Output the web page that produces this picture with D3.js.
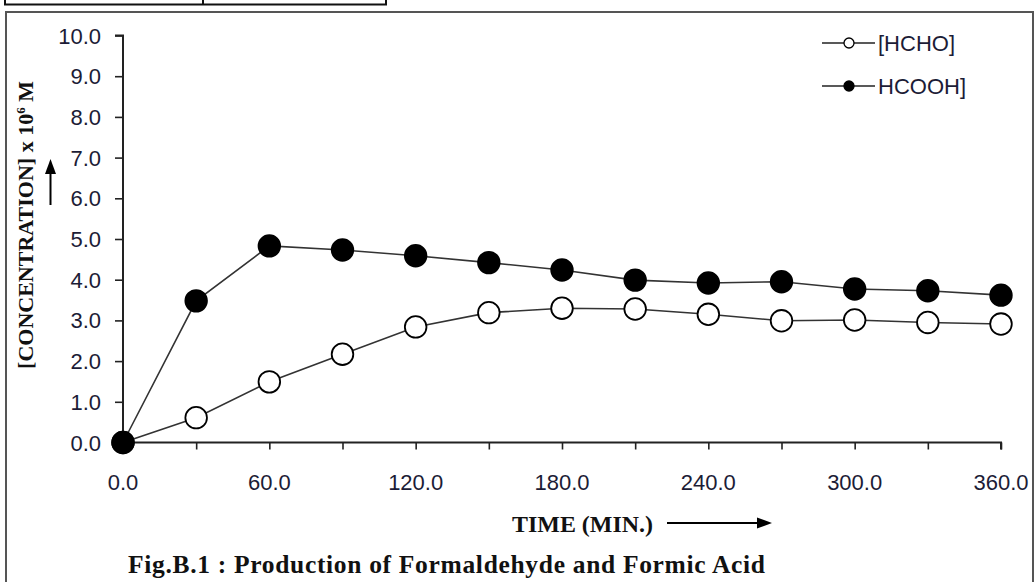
<!DOCTYPE html>
<html>
<head>
<meta charset="utf-8">
<script src="https://cdn.jsdelivr.net/npm/d3@7"></script>
<style>
  html, body { margin: 0; padding: 0; background: #fff; }
  svg { display: block; }
</style>
</head>
<body>
<svg id="chart" width="1035" height="582"></svg>
<script>
// ---- data ----
const times = [0, 30, 60, 90, 120, 150, 180, 210, 240, 270, 300, 330, 360];
const hcho  = [0, 0.61, 1.49, 2.17, 2.84, 3.19, 3.30, 3.28, 3.15, 2.99, 3.01, 2.95, 2.91];
const hcooh = [0, 3.48, 4.83, 4.73, 4.59, 4.42, 4.24, 3.99, 3.92, 3.95, 3.77, 3.73, 3.62];
const xTickLabels = [0, 60, 120, 180, 240, 300, 360];
const xMinorTicks = [0, 30, 60, 90, 120, 150, 180, 210, 240, 270, 300, 330, 360];
const yTickLabels = [0, 1, 2, 3, 4, 5, 6, 7, 8, 9, 10];
const seriesNames = ["[HCHO]", "HCOOH]"];

const svg = d3.select("#chart");
const ink = "#1c1c36";

// frame & top table fragment
const frame = svg.append("g");
frame.append("path").attr("d", "M6,582 V12 H1033 V582")
  .attr("fill", "none").attr("stroke", "#555").attr("stroke-width", 2);
frame.append("path").attr("d", "M5,0 V4.5 H386 V0 M203,0 V4.5")
  .attr("fill", "none").attr("stroke", "#111").attr("stroke-width", 2);

const x = d3.scaleLinear().domain([0, 360]).range([123, 1001]);
const y = d3.scaleLinear().domain([0, 10]).range([442.5, 35.5]);

// axes
const xAxis = svg.append("g").attr("transform", `translate(0,${y(0)})`)
  .call(d3.axisBottom(x).tickValues(xMinorTicks).tickSize(7).tickFormat(""));
const yAxis = svg.append("g").attr("transform", `translate(${x(0)},0)`)
  .call(d3.axisLeft(y).tickValues(yTickLabels).tickSize(8).tickFormat(""));
[xAxis, yAxis].forEach(g => {
  g.select(".domain").attr("stroke", "#222").attr("stroke-width", 2);
  g.selectAll(".tick line").attr("stroke", "#222").attr("stroke-width", 1.6);
});
xAxis.select(".domain").attr("d", `M${x(0)},0 H${x(360)} V7`);
yAxis.select(".domain").attr("d", `M-8,${y(10)} H0 V${y(0)}`);

// tick labels
svg.append("g").selectAll("text").data(xTickLabels).join("text")
  .attr("x", d => x(d)).attr("y", 490)
  .attr("text-anchor", "middle")
  .attr("font-family", "Liberation Sans, Arial, sans-serif")
  .attr("font-size", 22).attr("fill", ink)
  .text(d => d.toFixed(1));
svg.append("g").selectAll("text").data(yTickLabels).join("text")
  .attr("x", 101).attr("y", d => y(d) + 8)
  .attr("text-anchor", "end")
  .attr("font-family", "Liberation Sans, Arial, sans-serif")
  .attr("font-size", 22).attr("fill", ink)
  .text(d => d.toFixed(1));

// arrow helper
function arrow(x1, y1, x2, y2) {
  const a = Math.atan2(y2 - y1, x2 - x1), L = 15, W = 5.5;
  const bx = x2 - L * Math.cos(a), by = y2 - L * Math.sin(a);
  svg.append("line").attr("x1", x1).attr("y1", y1).attr("x2", bx).attr("y2", by)
    .attr("stroke", "#000").attr("stroke-width", 2);
  const px = -Math.sin(a) * W, py = Math.cos(a) * W;
  svg.append("path").attr("d", `M${x2},${y2} L${bx + px},${by + py} L${bx - px},${by - py} Z`)
    .attr("fill", "#000");
}

// axis titles
svg.append("text").attr("x", 512).attr("y", 532)
  .attr("font-family", "Liberation Serif, Times New Roman, serif")
  .attr("font-weight", "bold").attr("font-size", 24).attr("fill", "#111")
  .attr("textLength", 141).attr("lengthAdjust", "spacingAndGlyphs")
  .text("TIME (MIN.)");
arrow(667, 523, 772, 523);

const yt = svg.append("text").attr("transform", "translate(33,225) rotate(-90)")
  .attr("text-anchor", "middle")
  .attr("font-family", "Liberation Serif, Times New Roman, serif")
  .attr("font-weight", "bold").attr("font-size", 22).attr("fill", "#111");
yt.append("tspan").text("[CONCENTRATION] x 10");
yt.append("tspan").attr("font-size", 13).attr("dy", -8).text("6");
yt.append("tspan").attr("dy", 8).text(" M");
arrow(50.5, 205, 50.5, 159);

// caption
svg.append("text").attr("x", 128).attr("y", 573)
  .attr("font-family", "Liberation Serif, Times New Roman, serif")
  .attr("font-weight", "bold").attr("font-size", 25.5).attr("fill", "#111")
  .attr("textLength", 637).attr("lengthAdjust", "spacing")
  .text("Fig.B.1 : Production of Formaldehyde and Formic Acid");

// series
const line = d3.line().x((d, i) => x(times[i])).y(d => y(d));
const series = [
  { name: seriesNames[0], values: hcho, fill: "#fff" },
  { name: seriesNames[1], values: hcooh, fill: "#000" }
];
series.forEach(s => {
  svg.append("path").datum(s.values).attr("d", line)
    .attr("fill", "none").attr("stroke", "#333").attr("stroke-width", 1.6);
});
series.forEach(s => {
  svg.append("g").selectAll("circle").data(s.values).join("circle")
    .attr("cx", (d, i) => x(times[i])).attr("cy", d => y(d))
    .attr("r", 10.8).attr("fill", s.fill)
    .attr("stroke", "#000").attr("stroke-width", 1.8);
});

// legend
const legY = [43, 86];
series.forEach((s, i) => {
  const g = svg.append("g");
  g.append("line").attr("x1", 822).attr("x2", 875).attr("y1", legY[i]).attr("y2", legY[i])
    .attr("stroke", "#222").attr("stroke-width", 1.6);
  g.append("circle").attr("cx", 849).attr("cy", legY[i]).attr("r", 5)
    .attr("fill", s.fill).attr("stroke", "#000").attr("stroke-width", 1.3);
  g.append("text").attr("x", 878).attr("y", legY[i] + 8)
    .attr("font-family", "Liberation Sans, Arial, sans-serif")
    .attr("font-size", 22).attr("fill", ink).text(s.name);
});
</script>
</body>
</html>
